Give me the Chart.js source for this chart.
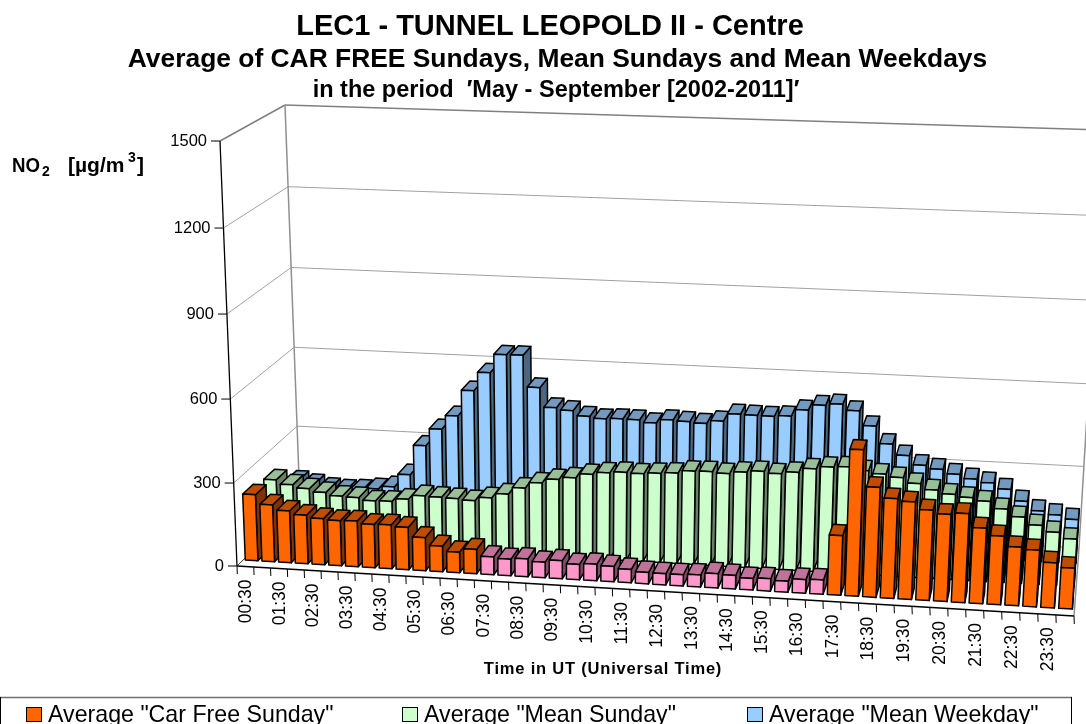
<!DOCTYPE html>
<html>
<head>
<meta charset="utf-8">
<style>
  html, body { margin: 0; padding: 0; background: #fff; }
  canvas { display: block; }
</style>
<script src="https://cdn.jsdelivr.net/npm/chart.js@4/dist/chart.umd.js"></script>
</head>
<body>
<canvas id="myChart" width="1086" height="724"></canvas>
<script>
const times = [
  "00:30","01:00","01:30","02:00","02:30","03:00","03:30","04:00",
  "04:30","05:00","05:30","06:00","06:30","07:00","07:30","08:00",
  "08:30","09:00","09:30","10:00","10:30","11:00","11:30","12:00",
  "12:30","13:00","13:30","14:00","14:30","15:00","15:30","16:00",
  "16:30","17:00","17:30","18:00","18:30","19:00","19:30","20:00",
  "20:30","21:00","21:30","22:00","22:30","23:00","23:30","24:00",
];
const carFreeSunday = [
  240,206,188,176,167,163,165,156,158,152,119,92,74,87,
  64,59,64,56,65,55,59,55,48,41,40,40,43,51,48,41,44,39,48,50,
  210,512,385,349,341,316,304,310,263,239,204,197,157,142,
];
const meanSunday = [
  224,209,198,187,177,175,166,168,179,195,193,191,187,201,218,243,
  265,281,290,306,315,320,318,323,327,337,339,335,343,349,344,352,
  368,377,381,371,362,353,335,315,303,295,285,261,236,210,189,168,
];
const meanWeekday = [
  144,134,123,120,123,131,142,191,303,368,420,517,586,655,656,540,
  469,461,443,437,440,439,431,445,442,438,450,478,477,476,480,505,
  525,532,511,459,397,358,326,315,300,286,275,255,215,183,172,159,
];
const yTicks = [0, 300, 600, 900, 1200, 1500];
const seriesNames = ['Average "Car Free Sunday"', 'Average "Mean Sunday"', 'Average "Mean Weekday"'];

const ORANGE = "#ff6600";
const PINK = "#ff99cc";
const GREEN = "#ccffcc";
const BLUE = "#99ccff";
// the car free hours themselves are coloured pink in the first row
const carFreeColors = times.map((t, i) => (i >= 14 && i <= 33 ? PINK : ORANGE));

// depth band (0 = front of floor, 1 = back wall) of each row
const rowDepth = [[0.1, 0.27], [0.43, 0.6], [0.77, 0.94]];

// screen corners of the 3D box: [front/back][left/right][bottom/top]
const box = {
  fl0: [237, 566], fr0: [1074, 616], fl1: [220, 141], fr1: [1101, 170],
  bl0: [300, 504], br0: [1079, 548], bl1: [285, 105], br1: [1104, 130],
};

function lerp(a, b, t) { return a + (b - a) * t; }

function project(chart, px, py, d) {
  const area = chart.chartArea;
  let u = (px - area.left) / (area.right - area.left);
  u = u - 0.04 * u * (1 - u); // slight perspective along the front
  let v = (area.bottom - py) / (area.bottom - area.top);
  v = v - 0.03 * v * (1 - v); // and up the walls
  const pt = [0, 1].map((k) =>
    lerp(
      lerp(lerp(box.fl0[k], box.fr0[k], u), lerp(box.fl1[k], box.fr1[k], u), v),
      lerp(lerp(box.bl0[k], box.br0[k], u), lerp(box.bl1[k], box.br1[k], u), v),
      d
    )
  );
  return pt;
}

function shade(hex, f) {
  const n = parseInt(hex.slice(1), 16);
  const r = Math.round(((n >> 16) & 255) * f);
  const g = Math.round(((n >> 8) & 255) * f);
  const b = Math.round((n & 255) * f);
  return "rgb(" + r + "," + g + "," + b + ")";
}

function poly(ctx, pts, fill) {
  ctx.beginPath();
  pts.forEach((p, i) => (i ? ctx.lineTo(p[0], p[1]) : ctx.moveTo(p[0], p[1])));
  ctx.closePath();
  if (fill) {
    ctx.fillStyle = fill;
    ctx.fill();
  }
  ctx.stroke();
}

function line(ctx, a, b, color, width) {
  ctx.strokeStyle = color;
  ctx.lineWidth = width;
  ctx.beginPath();
  ctx.moveTo(a[0], a[1]);
  ctx.lineTo(b[0], b[1]);
  ctx.stroke();
}

function text(ctx, str, x, y, font, align, maxWidth) {
  ctx.font = font;
  ctx.textAlign = align || "left";
  ctx.textBaseline = "alphabetic";
  ctx.fillStyle = "#000";
  if (maxWidth) ctx.fillText(str, x, y, maxWidth);
  else ctx.fillText(str, x, y);
}

const bars3d = {
  id: "bars3d",
  // walls, floor and axes
  beforeDatasetsDraw(chart) {
    const ctx = chart.ctx;
    const area = chart.chartArea;
    const yScale = chart.scales.y;
    const L = area.left;
    const R = area.right;
    const B = area.bottom;
    ctx.save();
    yTicks.forEach((t) => {
      const py = yScale.getPixelForValue(t);
      const c = t === 1500 ? "#808080" : "#a0a0a0";
      const w = t === 1500 ? 1.5 : 1;
      line(ctx, project(chart, L, py, 0), project(chart, L, py, 1), c, w);
      line(ctx, project(chart, L, py, 1), project(chart, R, py, 1), c, w);
    });
    line(ctx, project(chart, L, B, 1), project(chart, L, area.top, 1), "#909090", 1.5);
    line(ctx, project(chart, R, B, 0), project(chart, R, B, 1), "#909090", 1.5);
    line(ctx, project(chart, R, B, 1), project(chart, R, area.top, 1), "#909090", 1.5);
    line(ctx, project(chart, L, B, 0), project(chart, L, B, 1), "#404040", 1);
    ctx.restore();
  },
  beforeDatasetDraw(chart, args) {
    const ctx = chart.ctx;
    const row = rowDepth[args.index];
    const colors = chart.data.datasets[args.index].backgroundColor;
    ctx.save();
    ctx.strokeStyle = "#000";
    ctx.lineWidth = 1.5;
    ctx.lineJoin = "round";
    args.meta.data.forEach((el, i) => {
      const c = Array.isArray(colors) ? colors[i] : colors;
      const xl = el.x - el.width / 2;
      const xr = el.x + el.width / 2;
      const a = project(chart, xl, el.y, row[0]);
      const b = project(chart, xr, el.y, row[0]);
      const e = project(chart, xr, el.base, row[0]);
      const f = project(chart, xl, el.base, row[0]);
      const a2 = project(chart, xl, el.y, row[1]);
      const b2 = project(chart, xr, el.y, row[1]);
      const e2 = project(chart, xr, el.base, row[1]);
      poly(ctx, [b, b2, e2, e], shade(c, 0.5));
      poly(ctx, [a, a2, b2, b], shade(c, 0.75));
      poly(ctx, [a, b, e, f], c);
    });
    ctx.restore();
    return false;
  },
  afterDraw(chart) {
    const ctx = chart.ctx;
    const area = chart.chartArea;
    const xScale = chart.scales.x;
    const yScale = chart.scales.y;
    const step = xScale.getPixelForValue(1) - xScale.getPixelForValue(0);
    ctx.save();

    // value axis
    line(ctx, project(chart, area.left, area.bottom, 0), project(chart, area.left, area.top, 0), "#000", 1.3);
    yTicks.forEach((t) => {
      const p = project(chart, area.left, yScale.getPixelForValue(t), 0);
      line(ctx, [p[0] - 9, p[1]], p, "#000", 1);
      ctx.textBaseline = "middle";
      ctx.textAlign = "right";
      ctx.font = "16.5px 'Liberation Sans'";
      ctx.fillStyle = "#000";
      ctx.fillText(String(t), p[0] - 13, p[1] + 0.5);
    });

    // time axis
    line(ctx, project(chart, area.left, area.bottom, 0), project(chart, area.right, area.bottom, 0), "#000", 1.3);
    for (let i = 0; i <= times.length; i++) {
      const p = project(chart, area.left + i * step, area.bottom, 0);
      line(ctx, p, [p[0] + 0.3, p[1] + 8], "#000", 1);
    }
    times.forEach((t, i) => {
      if (i % 2) return;
      const p = project(chart, xScale.getPixelForValue(i), area.bottom, 0);
      ctx.save();
      ctx.translate(p[0] + 1, p[1] + 13);
      ctx.rotate(-Math.PI / 2);
      ctx.font = "17.5px 'Liberation Sans'";
      ctx.textAlign = "right";
      ctx.textBaseline = "middle";
      ctx.fillStyle = "#000";
      ctx.fillText(t, 0, 0);
      ctx.restore();
    });

    // titles
    text(ctx, "LEC1 - TUNNEL LEOPOLD II - Centre", 550, 35, "bold 29px 'Liberation Sans'", "center");
    text(ctx, "Average of CAR FREE Sundays, Mean Sundays and Mean Weekdays", 557.5, 67, "bold 26.4px 'Liberation Sans'", "center");
    text(ctx, "in the period  \u2032May - September [2002-2011]\u2032", 556, 97, "bold 23.5px 'Liberation Sans'", "center");

    // unit label with sub and superscript
    const unit = "bold 21px 'Liberation Sans'";
    text(ctx, "NO", 12, 172, unit, "left", 28);
    text(ctx, "2", 42, 176, "bold 14px 'Liberation Sans'");
    text(ctx, "[\u00b5g/m", 68, 172, unit, "left", 60);
    text(ctx, "3", 128, 162, "bold 14px 'Liberation Sans'");
    text(ctx, "]", 137, 172, unit);

    ctx.letterSpacing = "0.8px";
    text(ctx, "Time in UT (Universal Time)", 603, 674, "bold 16.5px 'Liberation Sans'", "center");
    ctx.letterSpacing = "0px";

    // legend box, cut by the bottom of the picture
    line(ctx, [0, 697.5], [1072, 697.5], "#707070", 1.5);
    line(ctx, [0.5, 697], [0.5, 724], "#000", 1);
    line(ctx, [1071.5, 697], [1071.5, 724], "#000", 1);
    const legendX = [48, 424, 769];
    const legendColors = [ORANGE, GREEN, BLUE];
    seriesNames.forEach((name, i) => {
      ctx.fillStyle = legendColors[i];
      ctx.strokeStyle = "#000";
      ctx.lineWidth = 1;
      ctx.fillRect(legendX[i] - 21.5, 707.5, 15, 14);
      ctx.strokeRect(legendX[i] - 21.5, 707.5, 15, 14);
      text(ctx, name, legendX[i], 722, "23.2px 'Liberation Sans'");
    });
    ctx.restore();
  },
};

const ctx = document.getElementById("myChart").getContext("2d");
const myChart = new Chart(ctx, {
  type: "bar",
  data: {
    labels: times,
    datasets: [
      { label: seriesNames[0], data: carFreeSunday, backgroundColor: carFreeColors },
      { label: seriesNames[1], data: meanSunday, backgroundColor: GREEN },
      { label: seriesNames[2], data: meanWeekday, backgroundColor: BLUE },
    ],
  },
  plugins: [bars3d],
  options: {
    responsive: false,
    animation: false,
    grouped: false,
    categoryPercentage: 1,
    barPercentage: 0.76,
    layout: { padding: { left: 237, right: 12, top: 141, bottom: 158 } },
    plugins: { legend: { display: false }, title: { display: false }, tooltip: { enabled: false } },
    scales: {
      x: { display: false },
      y: { display: false, min: 0, max: 1500, ticks: { stepSize: 300 } },
    },
  },
});
</script>
</body>
</html>
